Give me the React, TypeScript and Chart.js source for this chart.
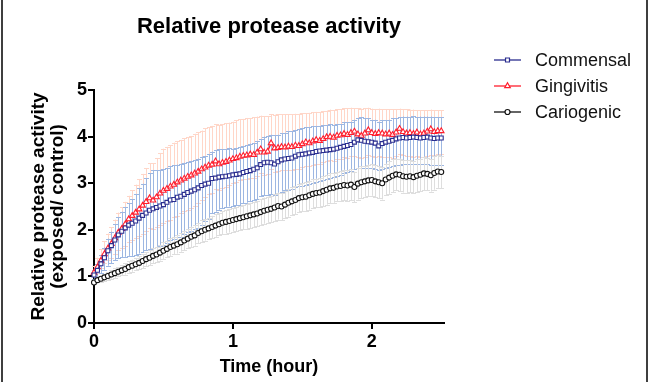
import React, { useEffect, useRef } from 'react';
import { Chart, registerables } from 'chart.js';

Chart.register(...registerables);

// Time points in minutes (converted to hours for the x axis)
const minutes = [
  0, 1.5, 3, 4.5, 6, 7.5, 9, 10.5, 12, 13.5,
  15, 16.5, 18, 19.5, 21, 22.5, 24, 25.5, 27, 28.5,
  30, 31.5, 33, 34.5, 36, 37.5, 39, 40.5, 42, 43.5,
  45, 46.5, 48, 49.5, 51, 52.5, 54, 55.5, 57, 58.5,
  60, 61.5, 63, 64.5, 66, 67.5, 69, 70.5, 72, 73.5,
  75, 76.5, 78, 79.5, 81, 82.5, 84, 85.5, 87, 88.5,
  90, 91.5, 93, 94.5, 96, 97.5, 99, 100.5, 102, 103.5,
  105, 106.5, 108, 109.5, 111, 112.5, 114, 115.5, 117, 118.5,
  120, 121.5, 123, 124.5, 126, 127.5, 129, 130.5, 132, 133.5,
  135, 136.5, 138, 139.5, 141, 142.5, 144, 145.5, 147, 148.5,
  150,
];

const seriesNames = ['Commensal', 'Gingivitis', 'Cariogenic'];

const commensal = [
  1.03, 1.13, 1.27, 1.40, 1.55, 1.66, 1.78, 1.89, 1.97, 2.04,
  2.10, 2.14, 2.19, 2.25, 2.31, 2.36, 2.42, 2.45, 2.48, 2.51,
  2.54, 2.59, 2.64, 2.65, 2.70, 2.72, 2.76, 2.80, 2.83, 2.86,
  2.90, 2.95, 2.98, 3.00, 3.10, 3.11, 3.13, 3.14, 3.15, 3.16,
  3.18, 3.19, 3.20, 3.23, 3.25, 3.27, 3.30, 3.33, 3.40, 3.44,
  3.45, 3.44, 3.41, 3.46, 3.50, 3.52, 3.53, 3.54, 3.58, 3.61,
  3.62, 3.63, 3.65, 3.66, 3.68, 3.69, 3.70, 3.71, 3.72, 3.73,
  3.75, 3.77, 3.79, 3.81, 3.83, 3.88, 3.93, 3.92, 3.90, 3.89,
  3.88, 3.86, 3.80, 3.85, 3.88, 3.90, 3.92, 3.95, 3.97, 3.98,
  3.97, 3.98, 3.99, 3.98, 3.97, 3.98, 3.99, 3.97, 3.96, 3.97,
  3.97,
];
const commensalUp = [
  0.10, 0.14, 0.18, 0.22, 0.26, 0.30, 0.34, 0.38, 0.42, 0.45,
  0.47, 0.52, 0.58, 0.64, 0.68, 0.75, 0.80, 0.83, 0.80, 0.78,
  0.76, 0.74, 0.72, 0.73, 0.70, 0.70, 0.68, 0.66, 0.65, 0.64,
  0.63, 0.62, 0.60, 0.62, 0.58, 0.60, 0.60, 0.59, 0.58, 0.60,
  0.56, 0.57, 0.58, 0.56, 0.57, 0.58, 0.56, 0.57, 0.55, 0.56,
  0.57, 0.60, 0.62, 0.58, 0.57, 0.56, 0.58, 0.57, 0.56, 0.55,
  0.56, 0.57, 0.55, 0.56, 0.55, 0.54, 0.55, 0.53, 0.54, 0.52,
  0.52, 0.50, 0.52, 0.50, 0.49, 0.48, 0.47, 0.50, 0.49, 0.50,
  0.48, 0.50, 0.52, 0.50, 0.47, 0.46, 0.47, 0.45, 0.44, 0.45,
  0.46, 0.44, 0.45, 0.44, 0.46, 0.45, 0.44, 0.46, 0.45, 0.44,
  0.45,
];
const commensalDown = [
  0.08, 0.14, 0.20, 0.26, 0.32, 0.38, 0.43, 0.50, 0.56, 0.62,
  0.66, 0.70, 0.73, 0.76, 0.79, 0.80, 0.83, 0.84, 0.85, 0.86,
  0.86, 0.87, 0.86, 0.85, 0.86, 0.87, 0.86, 0.85, 0.86, 0.85,
  0.86, 0.84, 0.80, 0.76, 0.74, 0.72, 0.70, 0.68, 0.67, 0.66,
  0.67, 0.66, 0.67, 0.66, 0.67, 0.66, 0.66, 0.67, 0.68, 0.70,
  0.70, 0.68, 0.66, 0.67, 0.68, 0.67, 0.68, 0.67, 0.66, 0.67,
  0.67, 0.66, 0.67, 0.65, 0.66, 0.64, 0.63, 0.62, 0.61, 0.60,
  0.60, 0.59, 0.58, 0.58, 0.57, 0.58, 0.60, 0.59, 0.58, 0.57,
  0.56, 0.56, 0.52, 0.55, 0.56, 0.55, 0.56, 0.57, 0.58, 0.57,
  0.56, 0.57, 0.58, 0.57, 0.56, 0.57, 0.58, 0.57, 0.56, 0.57,
  0.57,
];

const gingivitis = [
  1.08, 1.20, 1.34, 1.48, 1.60, 1.70, 1.82, 1.94, 2.02, 2.12,
  2.23, 2.30, 2.37, 2.44, 2.52, 2.60, 2.68, 2.63, 2.70, 2.78,
  2.84, 2.88, 2.93, 2.97, 3.02, 3.06, 3.10, 3.14, 3.17, 3.21,
  3.25, 3.30, 3.34, 3.38, 3.40, 3.47, 3.41, 3.44, 3.46, 3.49,
  3.52, 3.54, 3.57, 3.59, 3.60, 3.62, 3.61, 3.66, 3.73, 3.66,
  3.68, 3.86, 3.75, 3.76, 3.78, 3.77, 3.79, 3.78, 3.81, 3.80,
  3.84, 3.88, 3.86, 3.90, 3.93, 3.91, 3.95, 3.99, 4.00, 3.98,
  4.02, 4.03, 4.06, 4.04, 4.08, 4.11, 4.05, 4.02, 4.07, 4.14,
  4.08, 4.06, 4.08, 4.07, 4.05, 4.07, 4.04, 4.09, 4.17, 4.10,
  4.07, 4.08, 4.06, 4.09, 4.05, 4.07, 4.11, 4.16, 4.10, 4.12,
  4.12,
];
const gingivitisUp = [
  0.15, 0.20, 0.24, 0.28, 0.32, 0.36, 0.40, 0.43, 0.46, 0.48,
  0.50, 0.55, 0.60, 0.64, 0.68, 0.72, 0.75, 0.80, 0.84, 0.87,
  0.90, 0.90, 0.89, 0.90, 0.88, 0.87, 0.86, 0.85, 0.84, 0.85,
  0.84, 0.83, 0.84, 0.82, 0.83, 0.80, 0.84, 0.82, 0.83, 0.81,
  0.80, 0.81, 0.80, 0.79, 0.80, 0.78, 0.80, 0.77, 0.72, 0.78,
  0.76, 0.62, 0.72, 0.72, 0.70, 0.71, 0.69, 0.70, 0.68, 0.69,
  0.66, 0.62, 0.65, 0.62, 0.60, 0.62, 0.60, 0.57, 0.58, 0.59,
  0.57, 0.56, 0.55, 0.57, 0.54, 0.50, 0.56, 0.58, 0.54, 0.48,
  0.52, 0.53, 0.52, 0.52, 0.54, 0.52, 0.55, 0.50, 0.43, 0.49,
  0.52, 0.50, 0.52, 0.48, 0.52, 0.50, 0.46, 0.42, 0.47, 0.45,
  0.45,
];
const gingivitisDown = [
  0.08, 0.12, 0.16, 0.20, 0.25, 0.30, 0.34, 0.38, 0.42, 0.46,
  0.50, 0.52, 0.55, 0.58, 0.60, 0.62, 0.65, 0.62, 0.65, 0.68,
  0.70, 0.70, 0.71, 0.70, 0.72, 0.71, 0.70, 0.72, 0.70, 0.69,
  0.68, 0.66, 0.64, 0.62, 0.60, 0.60, 0.56, 0.55, 0.54, 0.53,
  0.52, 0.52, 0.51, 0.50, 0.50, 0.50, 0.49, 0.50, 0.52, 0.48,
  0.48, 0.55, 0.50, 0.50, 0.50, 0.49, 0.50, 0.49, 0.50, 0.50,
  0.50, 0.52, 0.50, 0.50, 0.51, 0.50, 0.50, 0.52, 0.51, 0.50,
  0.50, 0.50, 0.50, 0.49, 0.50, 0.52, 0.48, 0.48, 0.50, 0.54,
  0.50, 0.50, 0.50, 0.50, 0.49, 0.50, 0.49, 0.50, 0.55, 0.50,
  0.48, 0.50, 0.50, 0.50, 0.49, 0.50, 0.52, 0.55, 0.50, 0.50,
  0.50,
];

const cariogenic = [
  0.87, 0.92, 0.95, 0.98, 1.01, 1.04, 1.07, 1.10, 1.13, 1.16,
  1.20, 1.23, 1.26, 1.29, 1.33, 1.37, 1.40, 1.44, 1.47, 1.51,
  1.55, 1.59, 1.63, 1.66, 1.69, 1.73, 1.77, 1.81, 1.85, 1.88,
  1.93, 1.97, 2.00, 2.03, 2.06, 2.09, 2.12, 2.15, 2.17, 2.19,
  2.21, 2.23, 2.25, 2.27, 2.29, 2.31, 2.33, 2.35, 2.38, 2.41,
  2.43, 2.45, 2.48, 2.51, 2.50, 2.54, 2.58, 2.61, 2.64, 2.68,
  2.70, 2.71, 2.74, 2.77, 2.79, 2.80, 2.83, 2.86, 2.89, 2.90,
  2.93, 2.94, 2.96, 2.95, 2.97, 2.92, 2.99, 3.02, 3.04, 3.06,
  3.07, 3.04, 3.02, 3.00, 3.08, 3.12, 3.16, 3.19, 3.18, 3.15,
  3.14, 3.15, 3.13, 3.16, 3.18, 3.21, 3.20, 3.17, 3.22, 3.25,
  3.24,
];
const cariogenicErr = [
  0.04, 0.05, 0.06, 0.07, 0.08, 0.09, 0.10, 0.10, 0.11, 0.12,
  0.12, 0.13, 0.13, 0.14, 0.15, 0.15, 0.16, 0.16, 0.17, 0.17,
  0.18, 0.18, 0.19, 0.19, 0.20, 0.20, 0.21, 0.21, 0.22, 0.22,
  0.22, 0.23, 0.23, 0.23, 0.24, 0.24, 0.24, 0.25, 0.25, 0.25,
  0.25, 0.26, 0.26, 0.26, 0.27, 0.27, 0.27, 0.27, 0.28, 0.28,
  0.28, 0.28, 0.29, 0.29, 0.29, 0.29, 0.30, 0.30, 0.30, 0.30,
  0.30, 0.31, 0.31, 0.31, 0.31, 0.31, 0.32, 0.32, 0.32, 0.32,
  0.32, 0.33, 0.33, 0.33, 0.33, 0.33, 0.34, 0.34, 0.33, 0.34,
  0.34, 0.34, 0.34, 0.35, 0.34, 0.35, 0.35, 0.34, 0.35, 0.35,
  0.35, 0.34, 0.35, 0.35, 0.35, 0.36, 0.35, 0.35, 0.36, 0.35,
  0.35,
];

const xTickValues = [0, 1, 2];
const yTickValues = [0, 1, 2, 3, 4, 5];

const FONT = '"Liberation Sans", Arial, Helvetica, sans-serif';
const lineColors = ['#2B2E8F', '#FF1E2D', '#111111'];
const errColors = ['#9DB7E2', '#FFD6C8', '#DEDEDE'];
const pointStyles = ['rect', 'triangle', 'circle'];
const pointRadii = [2.8, 3.2, 2.5];

const means = [commensal, gingivitis, cariogenic];
const ups = [commensalUp, gingivitisUp, cariogenicErr];
const downs = [commensalDown, gingivitisDown, cariogenicErr];

const errorBarPlugin = {
  id: 'errorBars',
  beforeDatasetsDraw(chart: any) {
    const { ctx, scales } = chart;
    const xs = scales.x;
    const ys = scales.y;
    ctx.save();
    ctx.lineWidth = 1;
    const drawOrder = [1, 0, 2];
    drawOrder.forEach((si) => {
      ctx.strokeStyle = errColors[si];
      const m = means[si];
      for (let i = 0; i < m.length; i++) {
        const px = Math.round(xs.getPixelForValue(minutes[i] / 60)) + 0.5;
        const yt = ys.getPixelForValue(m[i] + ups[si][i]);
        const yb = ys.getPixelForValue(m[i] - downs[si][i]);
        ctx.beginPath();
        ctx.moveTo(px, yt);
        ctx.lineTo(px, yb);
        ctx.moveTo(px - 2.5, Math.round(yt) + 0.5);
        ctx.lineTo(px + 2.5, Math.round(yt) + 0.5);
        ctx.moveTo(px - 2.5, Math.round(yb) + 0.5);
        ctx.lineTo(px + 2.5, Math.round(yb) + 0.5);
        ctx.stroke();
      }
    });
    ctx.restore();
  },
};

function drawMarker(ctx: CanvasRenderingContext2D, style: string, x: number, y: number, r: number, color: string) {
  ctx.beginPath();
  if (style === 'rect') {
    const s = Math.SQRT1_2 * r;
    ctx.rect(x - s, y - s, 2 * s, 2 * s);
  } else if (style === 'triangle') {
    ctx.moveTo(x, y - r);
    ctx.lineTo(x + r * 0.866, y + r * 0.5);
    ctx.lineTo(x - r * 0.866, y + r * 0.5);
    ctx.closePath();
  } else {
    ctx.arc(x, y, r, 0, Math.PI * 2);
  }
  ctx.fillStyle = '#ffffff';
  ctx.fill();
  ctx.strokeStyle = color;
  ctx.lineWidth = 1.2;
  ctx.stroke();
}

const decorPlugin = {
  id: 'decor',
  afterDraw(chart: any) {
    const { ctx, chartArea } = chart;
    ctx.save();
    // Title centred over the plot area
    ctx.fillStyle = '#000';
    ctx.font = `bold 22px ${FONT}`;
    ctx.textAlign = 'center';
    ctx.textBaseline = 'middle';
    ctx.fillText('Relative protease activity', (chartArea.left + chartArea.right) / 2, 27);

    // Legend
    const rowY = [60, 86, 112];
    seriesNames.forEach((name, i) => {
      const y = rowY[i];
      ctx.strokeStyle = lineColors[i];
      ctx.lineWidth = 1.3;
      ctx.beginPath();
      ctx.moveTo(494, y);
      ctx.lineTo(521, y);
      ctx.stroke();
      drawMarker(ctx, pointStyles[i], 507.5, y, pointRadii[i], lineColors[i]);
      ctx.fillStyle = '#111';
      ctx.font = `18px ${FONT}`;
      ctx.textAlign = 'left';
      ctx.textBaseline = 'middle';
      ctx.fillText(name, 535, y + 1);
    });

    // Panel frame edges
    ctx.strokeStyle = '#000';
    ctx.lineWidth = 1.5;
    ctx.beginPath();
    ctx.moveTo(647, 0);
    ctx.lineTo(647, 382);
    ctx.moveTo(2, 0);
    ctx.lineTo(2, 382);
    ctx.stroke();
    ctx.restore();
  },
};

export default function App() {
  const canvasRef = useRef<HTMLCanvasElement | null>(null);

  useEffect(() => {
    if (!canvasRef.current) return;
    const datasets = seriesNames.map((name, si) => ({
      label: name,
      data: means[si].map((v, i) => ({ x: minutes[i] / 60, y: v })),
      borderColor: lineColors[si],
      borderWidth: 1.4,
      pointStyle: pointStyles[si],
      pointRadius: pointRadii[si],
      pointBorderWidth: 1.1,
      pointBorderColor: lineColors[si],
      pointBackgroundColor: '#ffffff',
      pointHoverRadius: pointRadii[si],
      tension: 0,
      fill: false,
      clip: false as any,
    }));

    const chart = new Chart(canvasRef.current, {
      type: 'line',
      data: { datasets },
      plugins: [errorBarPlugin, decorPlugin],
      options: {
        animation: false,
        responsive: false,
        maintainAspectRatio: false,
        layout: { padding: { top: 90, right: 206, bottom: 0, left: 0 } },
        plugins: {
          legend: { display: false },
          title: { display: false },
          tooltip: { enabled: false },
        },
        scales: {
          x: {
            type: 'linear',
            min: 0,
            max: 2.52,
            afterBuildTicks(scale: any) {
              scale.ticks = xTickValues.map((v) => ({ value: v }));
            },
            afterFit(scale: any) {
              scale.height = 59;
            },
            grid: {
              display: true,
              drawOnChartArea: false,
              drawTicks: true,
              tickLength: 6,
              color: '#000',
              lineWidth: 2,
            },
            border: { display: true, color: '#000', width: 2 },
            ticks: {
              color: '#000',
              font: { family: FONT, size: 18, weight: 'bold' },
              padding: 2,
              maxRotation: 0,
              autoSkip: false,
            },
            title: {
              display: true,
              text: 'Time (hour)',
              color: '#000',
              font: { family: FONT, size: 18, weight: 'bold', lineHeight: 1.2 },
              padding: { top: 0, bottom: 4 },
            },
          },
          y: {
            type: 'linear',
            min: 0,
            max: 5,
            afterBuildTicks(scale: any) {
              scale.ticks = yTickValues.map((v) => ({ value: v }));
            },
            afterFit(scale: any) {
              scale.width = 94;
            },
            grid: {
              display: true,
              drawOnChartArea: false,
              drawTicks: true,
              tickLength: 6,
              color: '#000',
              lineWidth: 2,
            },
            border: { display: true, color: '#000', width: 2 },
            ticks: {
              color: '#000',
              font: { family: FONT, size: 18, weight: 'bold' },
              padding: 1,
            },
            title: {
              display: true,
              text: ['Relative protease activity', '(exposed/ control)'],
              color: '#000',
              font: { family: FONT, size: 19, weight: 'bold', lineHeight: 1.0 },
              padding: { top: 29, bottom: 0 },
            },
          },
        },
      } as any,
    });
    return () => chart.destroy();
  }, []);

  return (
    <div style={{ position: 'fixed', left: 0, top: 0, width: 650, height: 382, background: '#fff' }}>
      <canvas ref={canvasRef} width={650} height={382} style={{ width: 650, height: 382, display: 'block' }} />
    </div>
  );
}
